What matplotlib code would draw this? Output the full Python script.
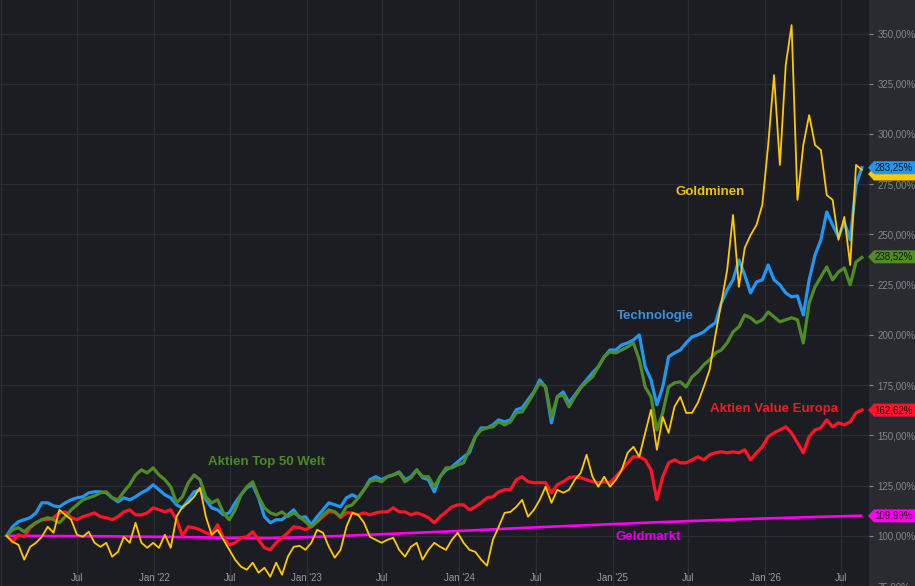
import matplotlib
matplotlib.use("Agg")
import matplotlib.pyplot as plt
import matplotlib.dates as mdates
from matplotlib.patches import Polygon
from matplotlib.ticker import FuncFormatter
import pandas as pd

# biweekly closes, indexed to 100 at start
dates = pd.date_range("2021-01-14", periods=147, freq="14D")

tech = [100.0, 104.5, 107.0, 108.0, 109.0, 111.4, 116.4, 116.4, 114.9, 114.4,
        116.4, 117.9, 118.9, 119.4, 121.4, 121.9, 121.9, 121.4, 118.9, 116.9,
        118.9, 117.9, 119.4, 121.4, 122.9, 125.4, 122.9, 120.4, 118.9, 115.4,
        113.9, 117.9, 121.9, 122.9, 117.9, 113.9, 112.9, 110.4, 111.4, 116.4,
        120.4, 123.9, 125.4, 118.9, 109.5, 106.5, 108.0, 108.0, 110.4, 112.9,
        109.0, 109.5, 105.5, 109.5, 112.9, 116.4, 115.4, 114.4, 118.9, 120.4,
        118.9, 122.9, 127.9, 129.4, 127.9, 129.4, 130.3, 131.8, 127.9, 129.4,
        132.8, 128.9, 127.9, 121.9, 129.4, 132.8, 134.3, 136.8, 139.3, 141.3,
        149.3, 153.7, 153.7, 155.2, 157.7, 156.7, 157.7, 162.7, 163.7, 167.7,
        171.6, 177.6, 174.1, 156.2, 169.2, 171.6, 166.2, 170.1, 174.1, 177.6,
        181.1, 184.1, 189.1, 192.5, 192.5, 195.0, 196.0, 197.5, 200.0, 184.1,
        177.6, 165.2, 174.1, 189.1, 191.0, 192.5, 196.0, 199.0, 200.0, 201.5,
        204.0, 206.0, 215.9, 222.4, 227.4, 237.3, 229.8, 220.9, 226.4, 227.4,
        234.8, 227.4, 224.9, 220.9, 218.9, 219.4, 209.9, 227.4, 239.8, 247.3,
        261.2, 254.7, 248.8, 256.2, 247.3, 274.6, 283.25]

welt = [100.0, 103.0, 104.0, 102.0, 104.5, 106.5, 108.0, 109.0, 108.0, 106.5,
        109.5, 112.9, 115.4, 117.9, 118.9, 119.9, 121.4, 121.9, 118.9, 117.9,
        121.9, 125.4, 130.3, 132.8, 131.3, 133.8, 130.3, 127.9, 124.4, 116.4,
        119.4, 126.4, 130.3, 127.9, 119.4, 116.4, 117.9, 111.4, 108.0, 112.9,
        120.4, 124.4, 126.9, 119.4, 113.9, 111.4, 110.4, 111.9, 109.5, 111.4,
        109.5, 107.0, 104.5, 107.0, 110.4, 112.9, 111.9, 109.5, 114.4, 115.4,
        118.9, 122.9, 126.9, 127.9, 126.9, 129.4, 130.3, 131.3, 126.9, 128.9,
        132.8, 129.4, 129.4, 124.4, 129.4, 133.8, 133.8, 135.3, 136.3, 142.8,
        149.3, 152.7, 153.7, 154.2, 156.7, 155.2, 156.7, 161.2, 161.7, 166.2,
        171.1, 176.1, 174.1, 159.2, 169.2, 170.1, 164.2, 169.2, 173.6, 176.6,
        179.1, 184.1, 189.1, 191.5, 191.0, 192.5, 194.0, 196.0, 187.6, 174.1,
        169.2, 152.7, 161.2, 174.1, 176.1, 176.6, 174.1, 179.1, 181.6, 185.1,
        187.6, 191.0, 192.5, 196.0, 201.5, 204.0, 209.9, 208.5, 206.0, 207.5,
        211.4, 209.0, 206.5, 207.5, 208.5, 207.5, 196.0, 215.9, 223.9, 228.9,
        233.8, 227.4, 231.3, 233.3, 224.9, 236.3, 238.52]

gold = [100.0, 97.0, 95.5, 88.1, 94.5, 96.5, 99.5, 104.5, 101.5, 112.9,
        110.4, 108.0, 100.5, 99.5, 102.0, 96.5, 94.5, 96.5, 89.6, 92.0,
        99.5, 96.5, 106.5, 96.5, 94.0, 96.5, 94.0, 100.5, 94.0, 109.5,
        114.4, 116.4, 119.4, 123.9, 109.5, 100.5, 103.0, 98.0, 93.0, 88.1,
        84.6, 83.1, 86.6, 81.6, 84.1, 79.6, 86.6, 80.6, 89.6, 94.5,
        95.0, 93.0, 96.5, 103.0, 101.5, 94.5, 89.1, 93.0, 104.5, 111.4,
        110.4, 106.5, 99.5, 98.0, 96.5, 98.0, 99.0, 93.0, 89.6, 94.5,
        96.5, 88.1, 93.0, 96.5, 94.5, 93.0, 98.0, 101.5, 96.5, 93.0,
        92.0, 88.1, 85.1, 98.0, 104.5, 111.4, 111.9, 114.4, 117.9, 109.5,
        112.9, 117.9, 124.4, 116.4, 122.9, 121.4, 122.9, 127.9, 131.3, 140.3,
        129.4, 124.4, 129.4, 124.4, 127.9, 132.8, 141.3, 144.3, 139.3, 151.2,
        162.7, 142.8, 159.2, 151.2, 164.2, 169.2, 161.2, 161.2, 166.2, 174.1,
        182.6, 200.0, 215.9, 232.3, 259.7, 223.9, 243.3, 249.7, 254.7, 264.7,
        294.5, 329.3, 284.6, 334.3, 354.2, 267.2, 294.5, 309.4, 294.5, 292.0,
        269.6, 267.2, 247.3, 258.7, 234.8, 284.6, 282.1]

europa = [100.0, 97.0, 100.5, 99.5, 104.0, 106.5, 108.0, 108.0, 109.0, 111.4,
          111.9, 109.0, 108.0, 109.5, 110.4, 111.4, 109.5, 109.0, 108.0, 109.5,
          111.9, 112.9, 110.4, 110.4, 111.4, 113.9, 112.9, 111.9, 112.9, 108.0,
          100.0, 104.5, 104.0, 103.0, 101.5, 100.5, 105.5, 99.0, 95.5, 96.5,
          99.0, 99.5, 102.0, 98.0, 94.0, 93.0, 96.5, 99.0, 101.5, 104.5,
          104.0, 103.0, 104.5, 107.0, 109.5, 111.9, 111.9, 109.0, 111.4, 111.4,
          110.4, 111.4, 110.4, 111.4, 111.9, 111.9, 113.9, 111.9, 111.9, 110.4,
          111.4, 110.4, 109.0, 106.5, 109.5, 111.9, 114.4, 115.4, 115.4, 112.9,
          114.4, 116.4, 118.9, 119.4, 121.9, 122.9, 122.9, 127.9, 129.4, 126.9,
          126.4, 126.4, 126.4, 121.4, 125.4, 126.9, 128.9, 129.4, 128.9, 127.9,
          126.9, 126.4, 126.9, 126.4, 129.4, 132.8, 136.3, 139.3, 139.3, 137.8,
          132.8, 117.9, 129.4, 136.3, 137.8, 136.3, 136.3, 137.8, 139.3, 137.8,
          140.3, 141.3, 141.8, 141.3, 141.8, 141.3, 142.8, 137.8, 141.3, 144.3,
          149.3, 151.2, 152.7, 154.2, 151.2, 146.3, 141.3, 149.3, 152.7, 153.7,
          157.7, 154.2, 156.2, 155.2, 156.7, 161.2, 162.62]

geld_dates = pd.to_datetime([
    "2021-01-14", "2021-04-01", "2021-07-01", "2021-10-01", "2022-01-01",
    "2022-04-01", "2022-07-01", "2022-10-01", "2023-01-01", "2023-04-01",
    "2023-07-01", "2023-10-01", "2024-01-01", "2024-04-01", "2024-07-01",
    "2024-10-01", "2025-01-01", "2025-04-01", "2025-07-01", "2025-10-01",
    "2026-01-01", "2026-04-01", "2026-07-01", "2026-08-18"])
geld = [100.0, 99.9, 99.8, 99.7, 99.5, 99.3, 99.0, 98.9, 99.3, 100.0,
        100.8, 101.6, 102.4, 103.3, 104.2, 105.0, 105.8, 106.6, 107.3, 108.0,
        108.6, 109.2, 109.7, 109.99]

Y0, Y1 = 75.1, 366.7
W, H = 915, 586
AX_W = 869

plt.rcParams['font.family'] = ['Liberation Sans', 'DejaVu Sans']

fig = plt.figure(figsize=(W / 100, H / 100), dpi=100)
fig.patch.set_facecolor('#2a2b30')
ax = fig.add_axes([0, 0, AX_W / W, 1])
ax.set_facecolor('#1b1d23')

ax.plot(geld_dates, geld, color='#ff00f0', lw=1.9, zorder=2)
ax.plot(dates, europa, color='#ff1428', lw=2.3, zorder=3, solid_joinstyle='round')
ax.plot(dates, tech, color='#2196f3', lw=2.3, zorder=4, solid_joinstyle='round')
ax.plot(dates, welt, color='#4f8c25', lw=2.3, zorder=5, solid_joinstyle='round')
ax.plot(dates, gold, color='#ffc800', lw=1.3, zorder=6, solid_joinstyle='round')

ax.set_xlim(pd.Timestamp("2020-12-29"), pd.Timestamp("2026-09-06"))
ax.set_ylim(Y0, Y1)

for s in ax.spines.values():
    s.set_visible(False)

ax.yaxis.tick_right()
ax.set_yticks(range(75, 351, 25))
ax.yaxis.set_major_formatter(FuncFormatter(lambda v, p: f"{v:.2f}".replace('.', ',') + '%'))
ax.tick_params(axis='y', colors='#85878c', labelsize=7, length=3, width=0.8, pad=3)

ax.xaxis.set_major_locator(mdates.MonthLocator(bymonth=[1, 7]))
ax.tick_params(axis='x', length=0, labelbottom=False)
ax.grid(True, color='#2b2d34', lw=0.9)
ax.set_axisbelow(True)

# month labels sit inside the plot, first one is Jul '21
first = mdates.date2num(pd.Timestamp("2021-06-01"))
lo, hi = ax.get_xlim()
for t in ax.get_xticks():
    if first < t < hi:
        d = mdates.num2date(t)
        lab = "Jul" if d.month == 7 else d.strftime("Jan '%y")
        ax.text(t, 1 - 578 / H, lab, transform=ax.get_xaxis_transform(),
                ha='center', va='center', fontsize=7, color='#9a9ba0')

# series names
names = [
    ("Goldminen", 710, 192, '#f2c200'),
    ("Technologie", 655, 316, '#3d8fdc'),
    ("Aktien Value Europa", 774, 409, '#f01c25'),
    ("Aktien Top 50 Welt", 267, 462, '#4a8a25'),
    ("Geldmarkt", 648, 537, '#e600e6'),
]
for txt, px, py, c in names:
    ax.text(px / AX_W, 1 - py / H, txt, transform=ax.transAxes, ha='center',
            va='center', fontsize=9.5, fontweight='bold', color=c, zorder=8)


# last-value tags on the right scale
def tag(val, txt, face, z):
    yf = (val - Y0) / (Y1 - Y0)
    hh = 6.5 / H
    x0, x1, x2 = 868 / W, 874 / W, 1.0
    fig.add_artist(Polygon([(x0, yf), (x1, yf + hh), (x2, yf + hh), (x2, yf - hh), (x1, yf - hh)],
                           closed=True, transform=fig.transFigure, facecolor=face,
                           edgecolor='none', zorder=z))
    if txt:
        fig.text(894 / W, yf, txt, ha='center', va='center', fontsize=7,
                 color='#111111', zorder=z + 0.5)


tag(280.1, "", '#ffc800', 10)
tag(283.25, "283,25%", '#2196f3', 11)
tag(238.9, "238,52%", '#4f8c25', 11)
tag(162.62, "162,62%", '#ff1428', 11)
tag(109.99, "109,99%", '#ff00f0', 11)

fig.savefig("out.png", dpi=100, facecolor=fig.get_facecolor())
